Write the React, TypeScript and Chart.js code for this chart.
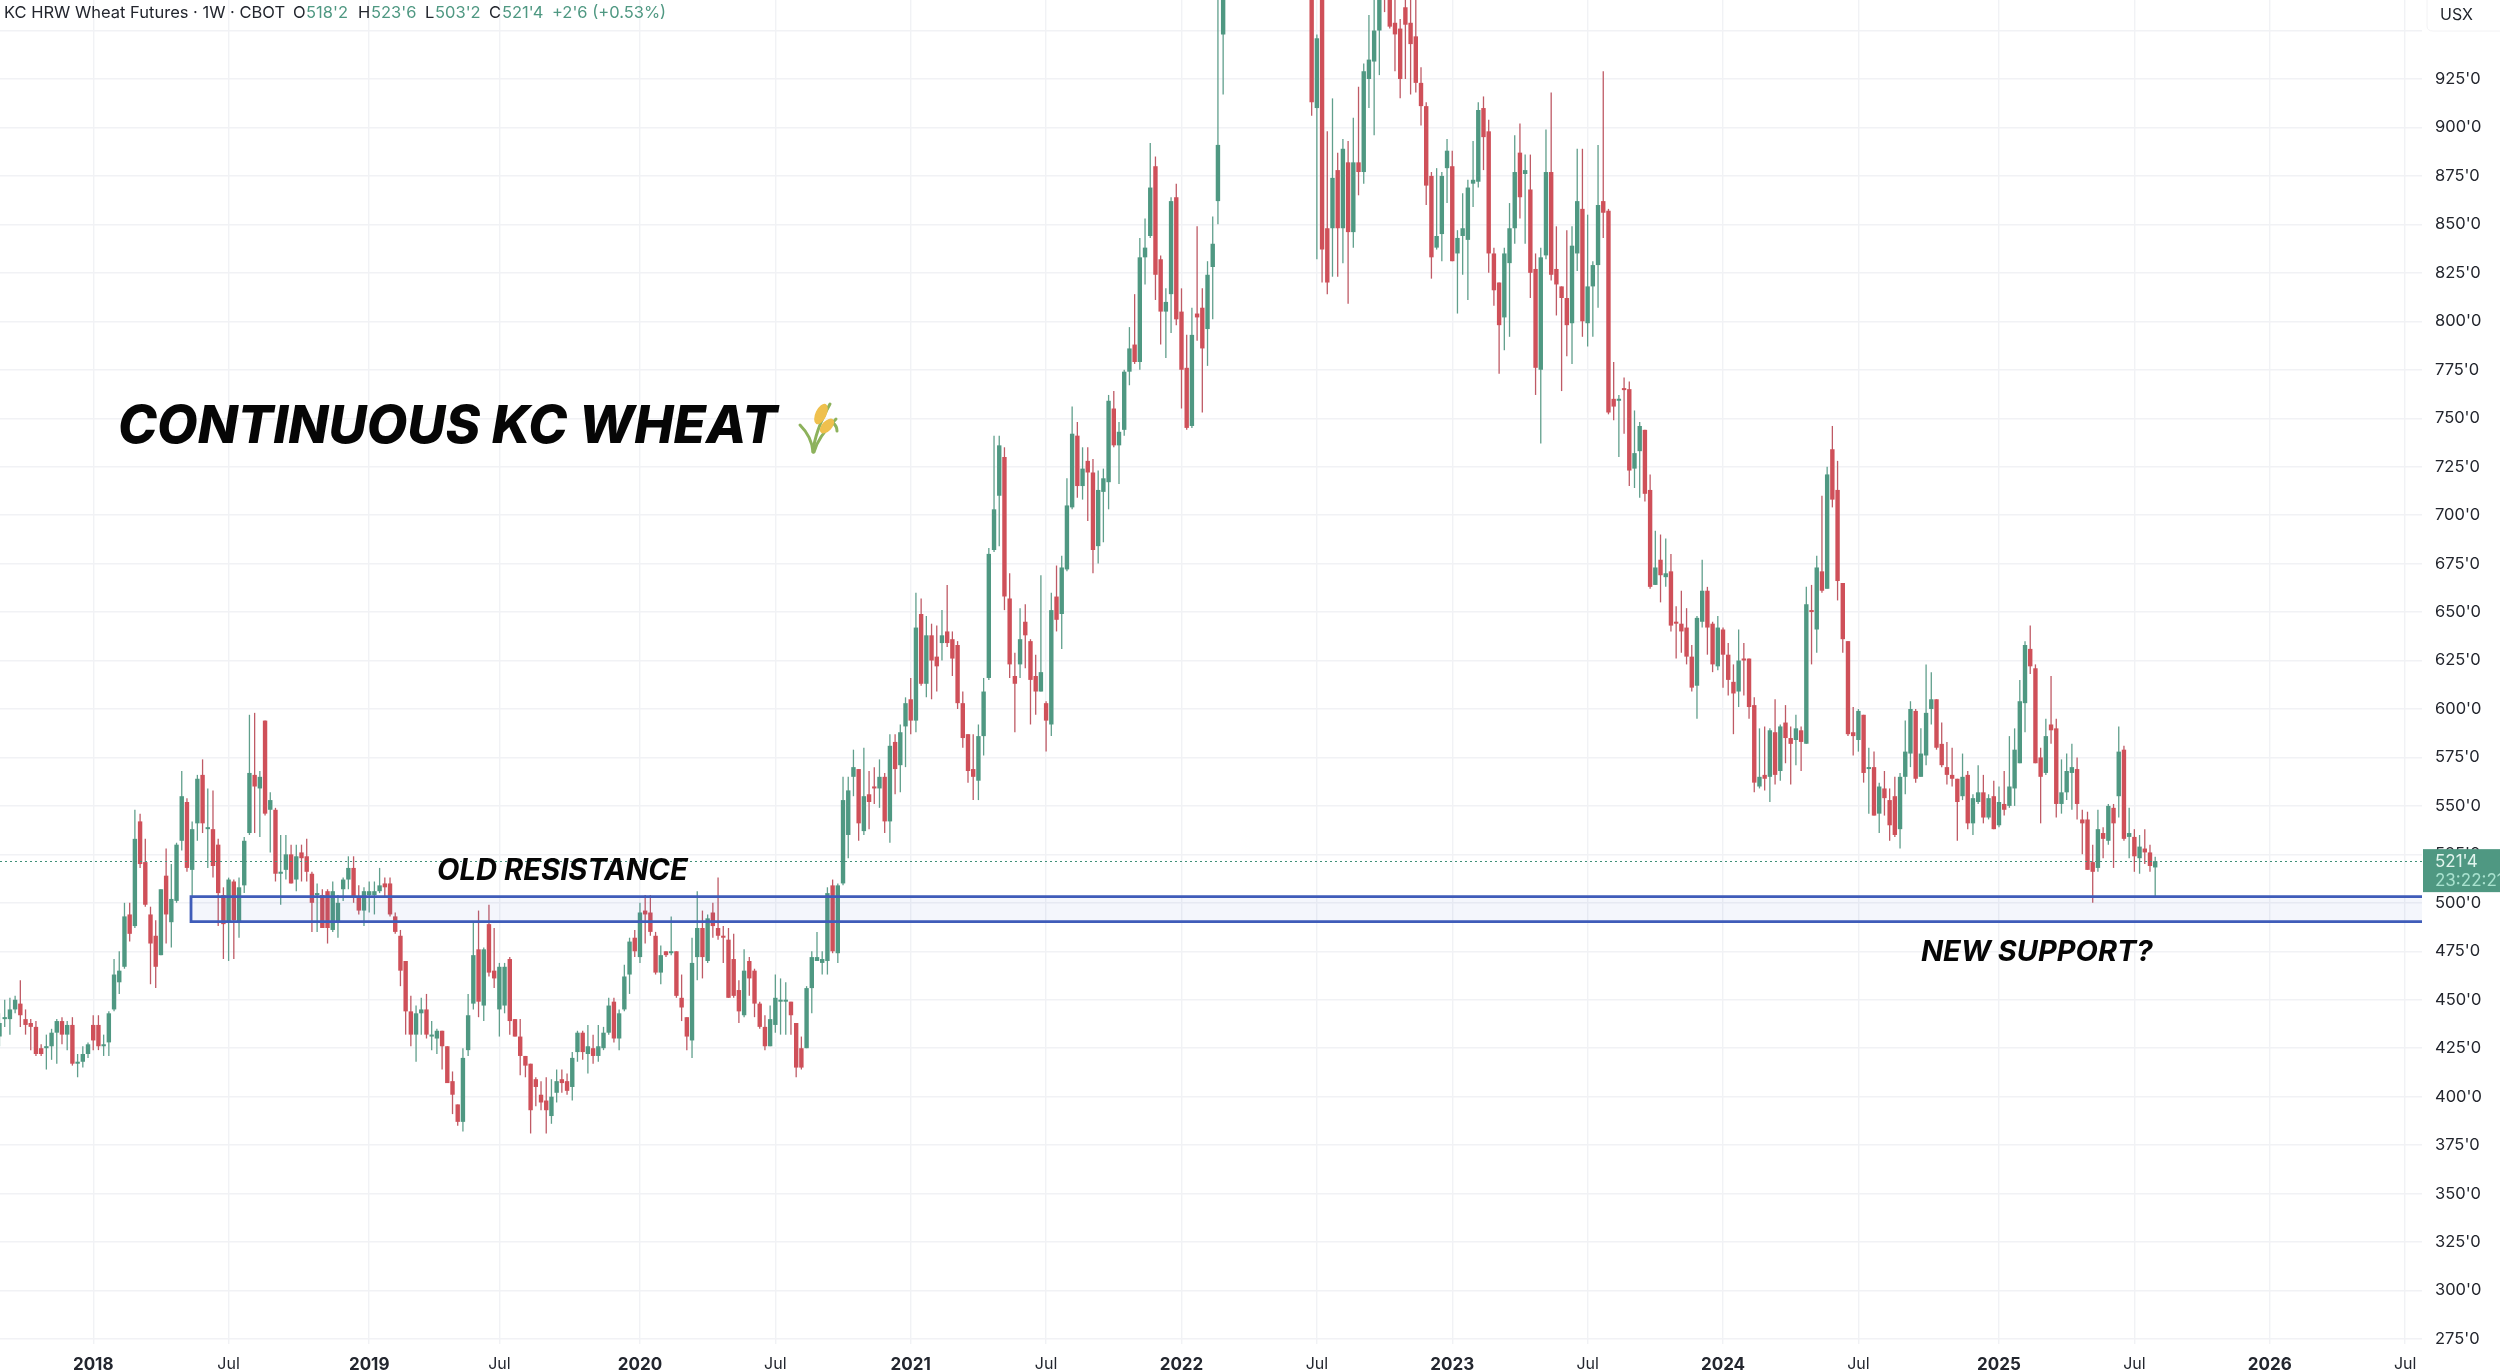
import React, { useEffect, useRef } from "react";
import { Chart, registerables } from "chart.js";

Chart.register(...registerables);

type Candle = [number, number, number, number] | null; // open, high, low, close

const weeks2017: Candle[] = [
  [431,443,426,438],[440,450,436,441],[440,451,432,445],[445,452,443,450],[448,460,436,442],[440,445,432,437],
  [438,440,424,436],[436,439,421,422],[425,427,421,422],[425,432,414,426],[426,435,419,433],[433,440,417,439],
  [439,441,427,432],[432,439,424,437],[437,441,416,417],[417,422,410,418],[418,426,415,422],[422,428,420,427],
];
const weeks2018: Candle[] = [
  [437,442,424,429],[437,442,424,426],[426,432,421,427],[428,444,421,443],[445,471,444,463],[459,475,453,465],
  [467,500,466,493],[494,500,480,484],[488,548,487,533],[542,546,518,520],[521,533,498,499],[494,498,458,479],
  [483,491,456,467],[473,507,473,507],[514,528,479,494],[490,520,477,502],[501,531,500,530],[532,568,527,555],
  [552,554,516,518],[517,542,503,538],[541,566,532,564],[566,574,536,541],[538,559,518,539],[538,558,513,519],
  [530,533,488,505],[504,508,471,489],[490,513,470,512],[511,512,471,491],[490,513,482,508],[509,534,505,532],
  [536,597,535,567],[566,598,536,560],[559,568,534,565],[594,594,545,546],[548,557,526,553],[548,549,511,515],
  [515,535,499,516],[517,535,512,525],[525,530,510,510],[512,530,506,524],[526,530,511,523],[524,533,511,516],
  [515,516,485,500],[504,510,485,505],[504,507,487,487],[506,507,479,487],[486,511,485,506],[490,504,482,500],
  [507,513,501,512],[512,524,507,518],[518,524,500,503],[503,509,494,496],[496,508,488,506],
];
const weeks2019: Candle[] = [
  [504,511,495,506],[504,511,494,506],[506,518,505,509],[510,513,503,508],[510,513,493,494],[493,495,484,485],
  [483,486,457,465],[470,470,432,444],[444,452,426,432],[432,447,418,443],[443,451,432,445],[445,453,430,432],
  [431,439,424,432],[430,435,422,434],[434,434,414,426],[426,426,407,407],[408,413,391,401],[396,396,385,387],
  [387,425,382,420],[424,453,421,442],[448,490,445,473],[476,496,441,449],[447,477,439,476],[489,499,462,464],
  [465,487,456,461],[445,469,431,467],[447,469,443,467],[471,472,432,439],[440,440,431,431],[431,440,411,421],
  [421,421,410,416],[417,417,381,393],[409,410,395,405],[401,408,393,397],[398,410,381,393],[390,409,386,400],
  [402,414,397,408],[409,414,402,407],[408,412,401,403],[405,423,398,420],[423,434,418,433],[433,434,419,423],
  [422,437,412,426],[425,432,417,421],[421,437,418,426],[425,436,424,433],[433,451,432,447],[449,451,428,430],
  [430,445,424,443],[445,468,444,462],[463,482,453,480],[482,486,472,475],
];
const weeks2020: Candle[] = [
  [472,500,469,495],[496,504,479,494],[495,504,483,485],[483,485,463,464],[464,478,458,473],[475,475,472,473],
  [474,493,473,475],[475,475,451,452],[451,463,439,446],[441,441,424,431],[429,482,420,469],[472,506,460,487],
  [487,496,461,472],[470,494,469,492],[495,500,482,488],[487,513,481,483],[483,488,469,482],[481,487,451,451],
  [471,484,451,452],[455,460,438,444],[442,476,441,465],[470,472,452,461],[465,466,441,448],[448,449,435,436],
  [436,442,424,426],[426,447,426,440],[437,463,433,451],[449,461,432,450],[449,459,432,450],[449,449,432,442],
  [438,438,410,415],[425,431,414,415],[425,457,425,456],[456,475,443,472],[470,485,470,472],[469,475,463,471],
  [470,508,463,505],[509,512,474,475],[474,510,469,509],[510,565,509,553],[535,565,523,558],[565,579,555,570],
  [569,569,532,541],[537,580,535,555],[556,568,538,552],[560,570,551,559],[559,574,549,565],[565,567,536,542],
  [542,587,531,581],[583,587,556,569],[571,592,557,588],[591,606,570,603],
];
const weeks2021: Candle[] = [
  [605,616,587,594],[594,660,588,642],[649,657,612,613],[613,648,606,638],[638,644,605,625],[627,643,609,622],
  [634,651,625,638],[640,664,632,634],[636,640,617,626],[633,635,600,603],[603,609,580,585],[587,587,562,568],
  [569,587,553,565],[563,592,553,586],[586,616,576,609],[616,683,615,680],[682,741,681,703],[710,741,684,736],
  [730,735,651,658],[657,670,616,623],[617,629,588,613],[623,652,616,636],[645,654,621,638],[635,636,592,615],
  [617,628,597,609],[609,669,609,619],[603,604,578,594],[592,660,586,651],[658,674,640,646],[649,679,631,673],
  [672,719,671,705],[704,756,703,742],[741,748,709,715],[715,735,708,724],[728,735,697,722],[722,729,670,682],
  [684,723,675,713],[712,724,686,719],[717,762,703,759],[755,764,735,736],[736,748,716,743],[744,775,741,774],
  [774,797,767,786],[788,814,778,779],[779,843,775,833],[833,853,819,838],[844,892,843,869],[880,885,811,824],
  [832,834,788,805],[805,817,781,810],[814,864,794,862],[864,871,798,801],
];
const weeks2022: Candle[] = [
  [805,817,755,775],[776,793,744,745],[746,807,745,793],[804,849,790,802],[807,817,753,786],[796,831,777,824],
  [828,854,801,840],[862,990,850,891],[948,1060,917,1040],
  null,null,null,null,null,null,null,null,null,null,null,null,null,null,null,null,
  [1000,1040,906,913],[910,948,832,946],[985,1000,820,837],[848,898,814,820],[848,915,823,874],[878,887,823,848],
  [848,894,830,889],[882,893,809,846],[846,905,838,882],[882,921,865,877],[877,933,871,929],[925,958,910,935],
  [934,970,896,950],[950,990,927,980],[1000,1010,959.5,975],[985,995,951,952],[954,975,929,948],[951,956,915,925],
  [962,975,925,953],[954,975,917,943],[947,975,918,923],[923,931,901,911],[911,913,860,870],[875,877,822,833],
  [838,879,837,844],[845,877,831,875],[879,894,861,888],
];
const weeks2023: Candle[] = [
  [880,888,831,831],[835,847,804,843],[844,866,824,848],[842,873,811,869],[871,893,859,873],[872,913,869,909],
  [910,916,878,895],[898,904,825,835],[835,838,808,816],[820,820,773,798],[802,838,785,835],[830,861,792,848],
  [848,896,840,877],[887,902,853,864],[876,886,840,878],[868,886,812,825],[827,835,762,776],[775,838,737,833],
  [834,899,832,877],[877,918,821,824],[827,849,803,819],[818,818,764,812],[812,847,782,798],[799,849,778,839],
  [835,889,826,862],[858,889,792,800],[799,855,787,818],[818,831,792,829],[829,891,807,860],[862,929,843,856],
  [857,858,752,753],[760,779,749,756],[759,762,730,760],[765,771,742,764.5],[765,769,715,723],[724,754,714,732],
  [733,748,709,746],[744,744,707,711],[713,721,662,663],[664,692,664,673],[677,690,655,669],[668,688,663,670],
  [671,680,640,643],[644.5,653,626,644],[644,661,629,640],[642,652,623,627],[627,633,609,611],[612,648,595,647],
  [645,677,642,661],[661,663,628,642],[644,645,619,623],[622,648,620,642],
];
const weeks2024: Candle[] = [
  [641,642,611,628],[628,634,607,615],[614,623,587,608],[609,641,601,625],[626,634,607,625],[626,626,595,601],
  [602,606,557,562],[560,590,559,565],[566,591,558,564],[565,590,552,589],[588,605,561,566],[568,592,563,591],
  [593,602,572,585],[585,591,561,582],[584,597,571,590],[589,591,568,583],[582,663,582,654],[651,664,623,650],
  [641,679,629,673],[671,710,660,661],[662,725,662,721],[734,746,704,708],[713,728,656,666],[665,665,629,636],
  [635,635,586,587],[588,601,576,586],[584,600,578,599],[597,597,562,567],[569,580,546,570],[570,578,545,545],
  [546,562,536,560],[559,568,545,554],[553,559,532,540],[555,565,534,535],[538,567,528,565],[565,594,556,578],
  [577,604,570,600],[599,600,562,564],[565,590,565,577],[576,623,571,598],[600,619,592,605],[605,605,579,580],
  [582,593,570,571],[570,583,561,566],[566,580,560,564],[564,564,532,552],[555,577,553,565],[566,568,538,541],
  [541,556,535,554],[552,571,551,557],[557,566,541,544],[544,556,543,554],[555,563,538,538],
];
const weeks2025: Candle[] = [
  [540,560,539,552],[551,568,545,548],[550,586,549,560],[559,590,550,579],[572,615,572,604],[603,635,588,633],
  [631,643,618,622],[621,623,572,572],[575,580,541,565],[567,595,566,586],[592,617,582,589],[590,595,544,551],
  [551,574,546,557],[557,577,553,568],[567,582,548,570],[569,575,543,551],[543,548,525,541],[543,547,517,517],
  [521,530,500,516],[518,548,516,538],[536,539,523,533],[532,551,530,550],[549,551,518,541],[555,591,544,578],
  [579,581,532,533],[534,549,523,536],[534,538,516,524],[523,535,515,529],[528,538,520,526],[526,530,516,519],
  [518.25,523.75,503.25,521.5],
];

const xTickIndexes = [18, 44, 71, 96, 123, 149, 175, 201, 227, 253, 279, 305, 331, 357, 384, 410, 436, 462];
const xTickLabels = ["2018", "Jul", "2019", "Jul", "2020", "Jul", "2021", "Jul", "2022", "Jul", "2023", "Jul", "2024", "Jul", "2025", "Jul", "2026", "Jul"];

const lastPrice = 521.5;
const zoneHigh = 503.2;
const zoneLow = 490.3;
const zoneStartIndex = 36.78;

const GREEN = "#4f9882";
const RED = "#cf5059";
const GREEN_WICK = "#609f8c";
const RED_WICK = "#bf5a65";
const GRID = "#f1f2f5";

const allWeeks: Candle[] = [
  ...weeks2017, ...weeks2018, ...weeks2019, ...weeks2020,
  ...weeks2021, ...weeks2022, ...weeks2023, ...weeks2024, ...weeks2025,
];

const present = allWeeks
  .map((c, i) => ({ c, i }))
  .filter((r) => r.c !== null) as { c: [number, number, number, number]; i: number }[];

const bodyData = present.map(({ c, i }) => ({ x: i, y: [c[0], c[3]] }));
const wickData = present.map(({ c, i }) => ({ x: i, y: [c[2], c[1]] }));
const isUp = present.map(({ c }) => c[3] >= c[0]);

function drawWheat(ctx: CanvasRenderingContext2D, x: number, y: number) {
  ctx.save();
  ctx.translate(x, y);
  ctx.lineCap = "round";
  ctx.strokeStyle = "#8db25c";
  ctx.lineWidth = 3;
  const stems: number[][] = [
    [15, 51, 17, 30, 32, 3],
    [15, 51, 14, 36, 2, 24],
    [16, 51, 20, 36, 38, 18],
  ];
  stems.forEach((s) => {
    ctx.beginPath();
    ctx.moveTo(s[0], s[1]);
    ctx.quadraticCurveTo(s[2], s[3], s[4], s[5]);
    ctx.stroke();
  });
  ctx.beginPath();
  ctx.moveTo(35, 22);
  ctx.quadraticCurveTo(39, 25, 39, 30);
  ctx.stroke();
  ctx.fillStyle = "#efc04e";
  ctx.beginPath();
  ctx.ellipse(23, 13, 5.5, 11, 0.45, 0, Math.PI * 2);
  ctx.fill();
  ctx.beginPath();
  ctx.ellipse(29, 25, 5, 9, 0.75, 0, Math.PI * 2);
  ctx.fill();
  ctx.restore();
}

const overlayPlugin = {
  id: "overlay",
  afterDatasetsDraw(chart: any) {
    const { ctx, chartArea, scales } = chart;
    const yTop = scales.y.getPixelForValue(zoneHigh);
    const yBot = scales.y.getPixelForValue(zoneLow);
    const xStart = scales.x.getPixelForValue(zoneStartIndex);
    const yLast = scales.y.getPixelForValue(lastPrice);
    ctx.save();
    ctx.strokeStyle = "#3f9078";
    ctx.lineWidth = 1;
    ctx.setLineDash([2, 3]);
    ctx.beginPath();
    ctx.moveTo(0, Math.round(yLast) + 0.5);
    ctx.lineTo(chartArea.right, Math.round(yLast) + 0.5);
    ctx.stroke();
    ctx.setLineDash([]);
    ctx.fillStyle = "rgba(62,96,210,0.06)";
    ctx.fillRect(xStart, yTop, chartArea.right - xStart, yBot - yTop);
    ctx.strokeStyle = "#3f5cb9";
    ctx.lineWidth = 2.8;
    ctx.beginPath();
    ctx.moveTo(chartArea.right, yTop);
    ctx.lineTo(xStart, yTop);
    ctx.lineTo(xStart, yBot);
    ctx.lineTo(chartArea.right, yBot);
    ctx.stroke();
    ctx.restore();
  },
  afterDraw(chart: any) {
    const { ctx, scales } = chart;
    const yLast = scales.y.getPixelForValue(lastPrice);
    ctx.save();
    // price tag
    ctx.fillStyle = "#4f9882";
    ctx.fillRect(2423, yLast - 12, 77, 43);
    ctx.textBaseline = "middle";
    ctx.textAlign = "left";
    ctx.font = "400 17px Inter";
    ctx.fillStyle = "#e2f5ee";
    ctx.fillText("521'4", 2435, yLast + 0.5);
    ctx.fillStyle = "#a9e2cf";
    ctx.fillText("23:22:21", 2435, yLast + 20);
    // currency box
    ctx.strokeStyle = "#f2f2f4";
    ctx.lineWidth = 1;
    ctx.beginPath();
    ctx.moveTo(2427, 0);
    ctx.lineTo(2427, 26);
    ctx.quadraticCurveTo(2427, 31, 2433, 31);
    ctx.lineTo(2500, 31);
    ctx.stroke();
    ctx.fillStyle = "#1f2229";
    ctx.font = "400 16px Inter";
    ctx.fillText("USX", 2440, 15);
    // header
    const headerY = 13;
    ctx.font = "400 16.5px Inter";
    const parts: [string, number, string][] = [
      ["KC HRW Wheat Futures · 1W · CBOT", 4, "#23262e"],
      ["O", 293, "#23262e"], ["518'2", 306, GREEN],
      ["H", 358, "#23262e"], ["523'6", 371, GREEN],
      ["L", 425, "#23262e"], ["503'2", 435, GREEN],
      ["C", 489, "#23262e"], ["521'4", 502, GREEN],
      ["+2'6 (+0.53%)", 552, GREEN],
    ];
    parts.forEach(([t, x, col]) => {
      ctx.fillStyle = col;
      ctx.fillText(t, x, headerY);
    });
    // annotations
    ctx.fillStyle = "#060606";
    ctx.textBaseline = "alphabetic";
    ctx.font = "italic 800 52.5px Inter";
    ctx.fillText("CONTINUOUS KC WHEAT", 118, 443);
    ctx.font = "italic 700 29.2px Inter";
    ctx.fillText("OLD RESISTANCE", 437, 880);
    ctx.font = "italic 700 29px Inter";
    ctx.fillText("NEW SUPPORT?", 1921, 961);
    drawWheat(ctx, 798, 401);
    ctx.restore();
  },
};

export default function App() {
  const ref = useRef<HTMLCanvasElement | null>(null);
  useEffect(() => {
    document.body.style.margin = "0";
    document.body.style.background = "#fff";
    const chart = new Chart(ref.current as HTMLCanvasElement, {
      type: "bar",
      data: {
        datasets: [
          {
            label: "Body",
            data: bodyData as any,
            backgroundColor: isUp.map((u) => (u ? GREEN : RED)),
            barThickness: 4.4,
            minBarLength: 2,
            grouped: false,
            inflateAmount: 0,
            order: 1,
          } as any,
          {
            label: "Wick",
            data: wickData as any,
            backgroundColor: isUp.map((u) => (u ? GREEN_WICK : RED_WICK)),
            barThickness: 1.3,
            grouped: false,
            inflateAmount: 0,
            order: 2,
          } as any,
        ],
      },
      options: {
        animation: false,
        responsive: false,
        maintainAspectRatio: false,
        layout: { padding: 0 },
        plugins: { legend: { display: false }, title: { display: false }, tooltip: { enabled: false } },
        scales: {
          x: {
            type: "linear",
            offset: false,
            min: 0.096,
            max: 465.24,
            border: { display: false },
            grid: { color: GRID, lineWidth: 1.4, offset: false, drawTicks: false },
            afterBuildTicks: (scale: any) => {
              scale.ticks = xTickIndexes.map((value) => ({ value }));
            },
            afterFit: (scale: any) => {
              scale.height = 26;
              scale.paddingLeft = 0;
              scale.paddingRight = 0;
            },
            ticks: {
              autoSkip: false,
              maxRotation: 0,
              minRotation: 0,
              padding: 11,
              color: "#23262e",
              font: (ctx: any) => {
                const v = ctx.tick ? ctx.tick.value : 0;
                const idx = xTickIndexes.indexOf(v);
                const isYear = idx >= 0 && xTickLabels[idx] !== "Jul";
                return { family: "Inter", size: isYear ? 17 : 16, weight: isYear ? "700" : "400" };
              },
              callback: (value: any) => {
                const idx = xTickIndexes.indexOf(Number(value));
                return idx >= 0 ? xTickLabels[idx] : "";
              },
            },
          } as any,
          y: {
            type: "linear",
            position: "right",
            min: 272.4,
            max: 965.75,
            border: { display: false },
            grid: { color: GRID, lineWidth: 1.4, drawTicks: false },
            afterFit: (scale: any) => {
              scale.width = 78;
              scale.paddingTop = 0;
              scale.paddingBottom = 0;
            },
            ticks: {
              stepSize: 25,
              includeBounds: false,
              padding: 13,
              color: "#23262e",
              font: { family: "Inter", size: 16.5 },
              callback: (value: any) => (Number(value) >= 950 ? "" : `${value}'0`),
            },
          } as any,
        },
      },
      plugins: [overlayPlugin as any],
    } as any);
    return () => chart.destroy();
  }, []);
  return (
    <div style={{ position: "absolute", left: 0, top: 0, width: 2500, height: 1370, overflow: "hidden", background: "#fff" }}>
      <canvas ref={ref} width={2500} height={1370} style={{ display: "block", width: 2500, height: 1370 }} />
    </div>
  );
}
